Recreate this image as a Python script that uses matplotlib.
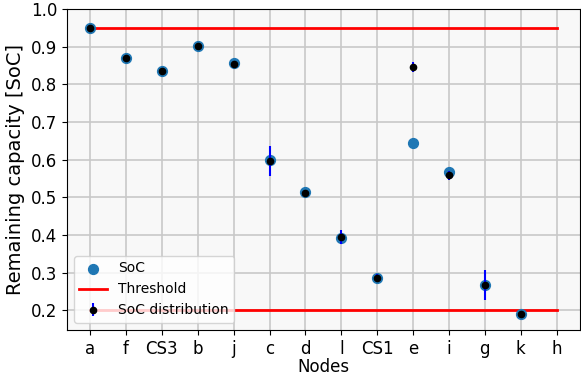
import matplotlib
matplotlib.use("Agg")
import matplotlib.pyplot as plt
import numpy as np

nodes = ["a", "f", "CS3", "b", "j", "c", "d", "l", "CS1", "e", "i", "g", "k", "h"]
soc = [0.950, 0.869, 0.836, 0.903, 0.857, 0.598, 0.513, 0.391, 0.287, 0.644, 0.567, 0.268, 0.190, np.nan]
dist_mean = [0.950, 0.871, 0.836, 0.903, 0.854, 0.597, 0.512, 0.395, 0.286, 0.846, 0.558, 0.268, 0.190, np.nan]
dist_err = [0.004, 0.006, 0.005, 0.005, 0.007, 0.040, 0.006, 0.018, 0.011, 0.013, 0.011, 0.040, 0.006, np.nan]
thr_high = 0.95
thr_low = 0.2

x = np.arange(len(nodes))

fig, ax = plt.subplots(figsize=(5.81, 3.77), dpi=100)
ax.set_facecolor("#f8f8f8")

ax.scatter(x, soc, s=50, color="#1f77b4", label="SoC", zorder=3)
ax.plot([x[0], x[-1]], [thr_high, thr_high], color="red", lw=2, label="Threshold", zorder=2)
ax.plot([x[0], x[-1]], [thr_low, thr_low], color="red", lw=2, zorder=2)
ax.errorbar(x, dist_mean, yerr=dist_err, fmt="o", color="black", ecolor="blue",
            elinewidth=1.5, markersize=4.5, label="SoC distribution", zorder=4)

ax.set_xticks(x)
ax.set_xticklabels(nodes, fontsize=12)
ax.tick_params(axis="y", labelsize=12)
ax.set_ylim(0.148, 1.0)
ax.set_xlim(-0.65, 13.65)
ax.grid(True, color="#c8c8c8", lw=1.2)
ax.set_axisbelow(True)
ax.set_xlabel("Nodes", fontsize=12, labelpad=0)
ax.set_ylabel("Remaining capacity [SoC]", fontsize=14)
ax.legend(loc="lower left", fontsize=10)

fig.subplots_adjust(left=0.115, right=0.998, top=0.976, bottom=0.125)
plt.savefig("out.png", dpi=100)
